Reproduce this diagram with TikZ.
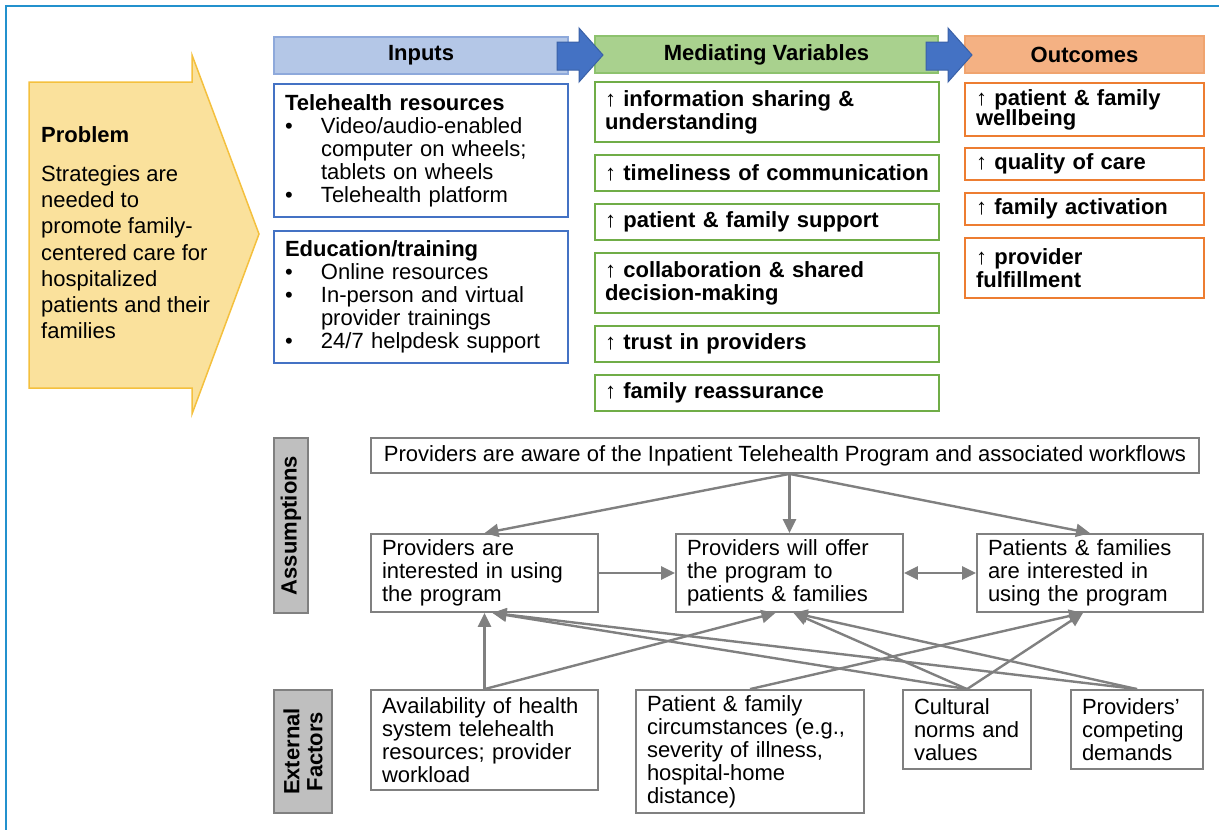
\documentclass[tikz,border=0pt]{standalone}
\usepackage{fontspec}
\setmainfont{Liberation Sans}
\usepackage{xcolor}
\usepackage{tikz}
\usetikzlibrary{arrows.meta, positioning, calc}

\definecolor{framebl}{HTML}{2391CD}
\definecolor{probfill}{HTML}{FAE19C}
\definecolor{probln}{HTML}{F4C03E}
\definecolor{inhead}{HTML}{B4C7E7}
\definecolor{inheadln}{HTML}{8EA9DB}
\definecolor{inln}{HTML}{4472C4}
\definecolor{medhead}{HTML}{A9D18E}
\definecolor{medheadln}{HTML}{8DC26E}
\definecolor{medln}{HTML}{70AD47}
\definecolor{outhead}{HTML}{F4B183}
\definecolor{outheadln}{HTML}{F0A46F}
\definecolor{outln}{HTML}{ED7D31}
\definecolor{labfill}{HTML}{BFBFBF}
\definecolor{asln}{HTML}{808080}
\definecolor{bigarrow}{HTML}{4472C4}

\newcommand{\figfont}{\fontsize{22}{23}\selectfont}
\newcommand{\bitem}{\makebox[36pt][l]{\textbullet}}
\newcommand{\bcont}{\hspace*{36pt}}

\begin{document}
\begin{tikzpicture}[
    x=1pt, y=-1pt, font=\figfont,
    hdr/.style={draw, line width=1.2pt, minimum height=37pt, font=\figfont\bfseries},
    inbox/.style={draw=inln, line width=1.8pt, text width=272pt, inner xsep=11pt, inner ysep=2pt, align=left, minimum width=294pt},
    medbox/.style={draw=medln, line width=1.8pt, text width=324pt, inner xsep=10pt, inner ysep=2pt, align=left, minimum width=344pt, font=\figfont\bfseries},
    outbox/.style={draw=outln, line width=1.8pt, text width=217pt, inner xsep=11pt, inner ysep=2pt, align=left, minimum width=239pt, font=\figfont\bfseries},
    asbox/.style={draw=asln, line width=1.8pt, inner xsep=11pt, inner ysep=2pt, align=left},
    lab/.style={draw=asln, fill=labfill, line width=1.8pt, rotate=90, align=center, inner sep=0pt, font=\figfont\bfseries},
    con/.style={draw=asln, line width=2.4pt, >={Triangle[length=14pt,width=13pt]}, ->},
    bigarr/.style={fill=bigarrow, draw=bigarrow!85!black, line width=1pt}
]
    \useasboundingbox (0,0) rectangle (1219,830);
    \draw[framebl, line width=2.5pt] (6,830) -- (6,6) -- (1219,6);

    \draw[fill=probfill, draw=probln, line width=1.5pt] (29,82) -- (192,82) -- (192,55) -- (259,234) -- (192,414) -- (192,388) -- (29,388) -- cycle;
    \node[align=left, anchor=west, inner sep=0pt, font=\fontsize{22}{26.3}\selectfont] (prob) at (41,233) {\textbf{Problem}\\[12pt]Strategies are\\needed to\\promote family-\\centered care for\\hospitalized\\patients and their\\families};

    \node[hdr, fill=inhead, draw=inheadln, minimum width=294pt] (hin) at (421,55.5) {Inputs};
    \node[hdr, fill=medhead, draw=medheadln, minimum width=343pt] (hmed) at (766.5,54.5) {Mediating Variables};
    \node[hdr, fill=outhead, draw=outheadln, minimum width=239pt] (hout) at (1084.5,54.5) {Outcomes};
    \draw[bigarr] (557,42) -- (579,42) -- (579,28) -- (603,55) -- (579,82) -- (579,70) -- (557,70) -- cycle;
    \draw[bigarr] (926,42) -- (948,42) -- (948,28) -- (972,55) -- (948,82) -- (948,70) -- (926,70) -- cycle;

    \node[inbox, minimum height=133pt] (tele) at (421,150.5) {\textbf{Telehealth resources}\\\bitem Video/audio-enabled\\\bcont computer on wheels;\\\bcont tablets on wheels\\\bitem Telehealth platform};
    \node[inbox, minimum height=132pt] (edu) at (421,297) {\textbf{Education/training}\\\bitem Online resources\\\bitem In-person and virtual\\\bcont provider trainings\\\bitem 24/7 helpdesk support};

    \node[medbox, minimum height=60pt] (info) at (767,112) {↑ information sharing \&\\understanding};
    \node[medbox, minimum height=36pt] (timel) at (767,173) {\mbox{↑ timeliness of communication}};
    \node[medbox, minimum height=36pt] (suppt) at (767,222) {↑ patient \& family support};
    \node[medbox, minimum height=60pt] (collab) at (767,283) {↑ collaboration \& shared\\decision-making};
    \node[medbox, minimum height=36pt] (trust) at (767,344) {↑ trust in providers};
    \node[medbox, minimum height=36pt] (reass) at (767,393) {↑ family reassurance};

    \node[outbox, minimum height=53pt] (wellb) at (1084.5,109.5) {↑ patient \& family\\[-3pt]wellbeing};
    \node[outbox, minimum height=32pt] (qual) at (1084.5,164) {↑ quality of care};
    \node[outbox, minimum height=32pt] (activ) at (1084.5,209) {↑ family activation};
    \node[outbox, minimum height=60pt] (fulfil) at (1084.5,268) {↑ provider\\fulfillment};

    \node[lab, minimum width=175pt, minimum height=34pt] (assum) at (291,525.5) {Assumptions};
    \node[lab, minimum width=123pt, minimum height=58pt] (extf) at (303,751.5) {External\\Factors};

    \node[asbox, align=center, minimum width=828pt, minimum height=35pt] (aware) at (785,455.5) {Providers are aware of the Inpatient Telehealth Program and associated workflows};
    \node[asbox, text width=205pt, minimum height=78pt] (pint) at (484.5,573) {Providers are\\interested in using\\the program};
    \node[asbox, text width=205pt, minimum height=78pt] (offer) at (789.5,573) {Providers will offer\\the program to\\patients \& families};
    \node[asbox, text width=204pt, minimum height=78pt] (pfint) at (1090,573) {Patients \& families\\are interested in\\using the program};
    \node[asbox, text width=205pt, minimum height=100pt] (avail) at (484.5,740) {Availability of health\\system telehealth\\resources; provider\\workload};
    \node[asbox, text width=206pt, minimum height=123pt] (circ) at (750,751.5) {Patient \& family\\circumstances (e.g.,\\severity of illness,\\hospital-home\\distance)};
    \node[asbox, text width=106pt, minimum height=79pt] (cult) at (967,729.5) {Cultural\\norms and\\values};
    \node[asbox, text width=110pt, minimum height=79pt] (compet) at (1137,729.5) {Providers'\\competing\\demands};

    \draw[con] (aware.south -| offer.north) -- (pint.north);
    \draw[con] (aware.south -| offer.north) -- (offer.north);
    \draw[con] (aware.south -| offer.north) -- (pfint.north);
    \draw[con] (pint) -- (offer);
    \draw[con, <->] (offer) -- (pfint);
    \draw[con] (avail.north) -- (pint.south);
    \draw[con] (avail.north) -- ([xshift=-14pt]offer.south);
    \draw[con] (circ.north) -- ([xshift=-7pt]pfint.south);
    \draw[con] (cult.north) -- ([xshift=8pt]pint.south);
    \draw[con] (cult.north) -- ([xshift=4pt]offer.south);
    \draw[con] (cult.north) -- ([xshift=-7pt]pfint.south);
    \draw[con] (compet.north) -- ([xshift=8pt]pint.south);
    \draw[con] (compet.north) -- ([xshift=4pt]offer.south);
\end{tikzpicture}
\end{document}
